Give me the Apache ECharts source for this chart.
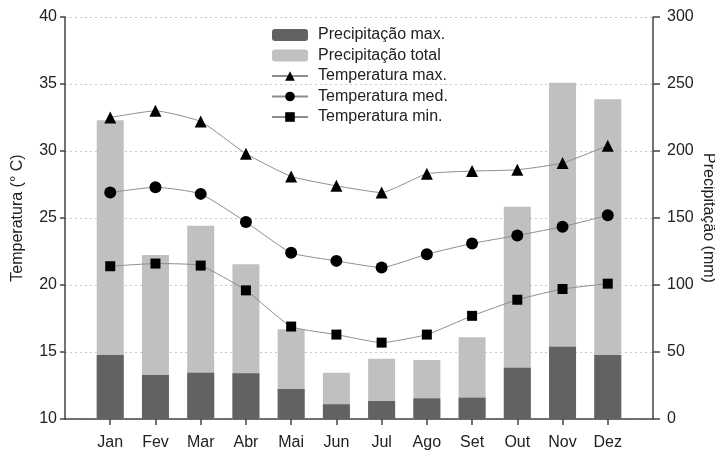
<!DOCTYPE html>
<html>
<head>
<meta charset="utf-8">
<script src="https://cdn.jsdelivr.net/npm/echarts@6/dist/echarts.min.js"></script>
<style>html,body{margin:0;padding:0;background:#fff}#c{width:715px;height:452px}</style>
</head>
<body>
<div id="c"></div>
<script>
var months = ['Jan','Fev','Mar','Abr','Mai','Jun','Jul','Ago','Set','Out','Nov','Dez'];
var precipMax = [47.8, 32.8, 34.6, 34.1, 22.4, 11.0, 13.4, 15.4, 15.9, 38.3, 54.0, 47.8];
var precipTotal = [223, 122.4, 144.3, 115.4, 66.9, 34.6, 45.0, 44.0, 61.0, 158.4, 251.0, 238.6];
var tempMax = [32.5, 33.0, 32.2, 29.8, 28.1, 27.4, 26.9, 28.3, 28.5, 28.6, 29.1, 30.4];
var tempMed = [26.9, 27.3, 26.8, 24.7, 22.4, 21.8, 21.3, 22.3, 23.1, 23.7, 24.35, 25.2];
var tempMin = [21.4, 21.6, 21.45, 19.6, 16.9, 16.3, 15.7, 16.3, 17.7, 18.9, 19.7, 20.1];
var tempTicks = [10, 15, 20, 25, 30, 35, 40];
var precipTicks = [0, 50, 100, 150, 200, 250, 300];

function pad(a){ return [null].concat(a, [null]); }
var cats = [''].concat(months, ['']);
var FONT = 'Liberation Sans, Arial, sans-serif';
var AX = '#444';

var chart = echarts.init(document.getElementById('c'));
function lineSeries(name, data, symbol, size){
  return {
    name: name, type: 'line', yAxisIndex: 0, data: pad(data),
    symbol: symbol, symbolSize: size, smooth: 0.15,
    lineStyle: {color: '#8c8c8c', width: 1},
    itemStyle: {color: '#000'},
    z: 5
  };
}
chart.setOption({
  animation: false,
  textStyle: {fontFamily: FONT},
  grid: {left: 65, right: 62, top: 17, bottom: 33, outerBoundsMode: 'none', containLabel: false},
  legend: {
    orient: 'vertical', left: 266, top: 22,
    itemWidth: 36, itemHeight: 12, itemGap: 4.5,
    textStyle: {fontSize: 16, color: '#222', fontFamily: FONT, padding: [0,0,0,5]},
    data: ['Precipitação max.', 'Precipitação total', 'Temperatura max.', 'Temperatura med.', 'Temperatura min.']
  },
  xAxis: {
    type: 'category', data: cats, boundaryGap: false,
    axisLine: {lineStyle: {color: AX, width: 1.5}},
    axisTick: {length: 6, lineStyle: {color: AX, width: 1.5}, interval: function(i){ return i > 0 && i < cats.length - 1; }},
    axisLabel: {interval: 0, fontSize: 16, color: '#222', margin: 16, fontFamily: FONT},
    splitLine: {show: false}
  },
  yAxis: [{
    type: 'value', min: tempTicks[0], max: tempTicks[tempTicks.length-1], interval: 5,
    name: 'Temperatura (° C)', nameLocation: 'middle', nameGap: 39, nameRotate: 90, nameMoveOverlap: false,
    nameTextStyle: {fontSize: 16, color: '#222', fontFamily: FONT},
    axisLine: {show: true, lineStyle: {color: AX, width: 1.5}},
    axisTick: {show: true, length: 5, lineStyle: {color: AX, width: 1.5}},
    axisLabel: {fontSize: 16, color: '#222', margin: 8, fontFamily: FONT},
    splitLine: {show: true, lineStyle: {color: '#c8c8c8', type: [2, 3], width: 1}}
  }, {
    type: 'value', min: precipTicks[0], max: precipTicks[precipTicks.length-1], interval: 50,
    name: 'Precipitação (mm)', nameLocation: 'middle', nameGap: 47, nameRotate: -90, nameMoveOverlap: false,
    nameTextStyle: {fontSize: 16, color: '#222', fontFamily: FONT},
    axisLine: {show: true, lineStyle: {color: AX, width: 1.5}},
    axisTick: {show: true, length: 7, lineStyle: {color: AX, width: 1.5}},
    axisLabel: {fontSize: 16, color: '#222', margin: 14, fontFamily: FONT},
    splitLine: {show: false}
  }],
  series: [
    {name: 'Precipitação total', type: 'bar', yAxisIndex: 1, data: pad(precipTotal), barWidth: 27, barGap: '-100%', itemStyle: {color: '#c0c0c0'}, z: 2},
    {name: 'Precipitação max.', type: 'bar', yAxisIndex: 1, data: pad(precipMax), barWidth: 27, barGap: '-100%', itemStyle: {color: '#626262'}, z: 3},
    lineSeries('Temperatura max.', tempMax, 'triangle', 12),
    lineSeries('Temperatura med.', tempMed, 'circle', 12),
    lineSeries('Temperatura min.', tempMin, 'rect', 10)
  ]
});
</script>
</body>
</html>
